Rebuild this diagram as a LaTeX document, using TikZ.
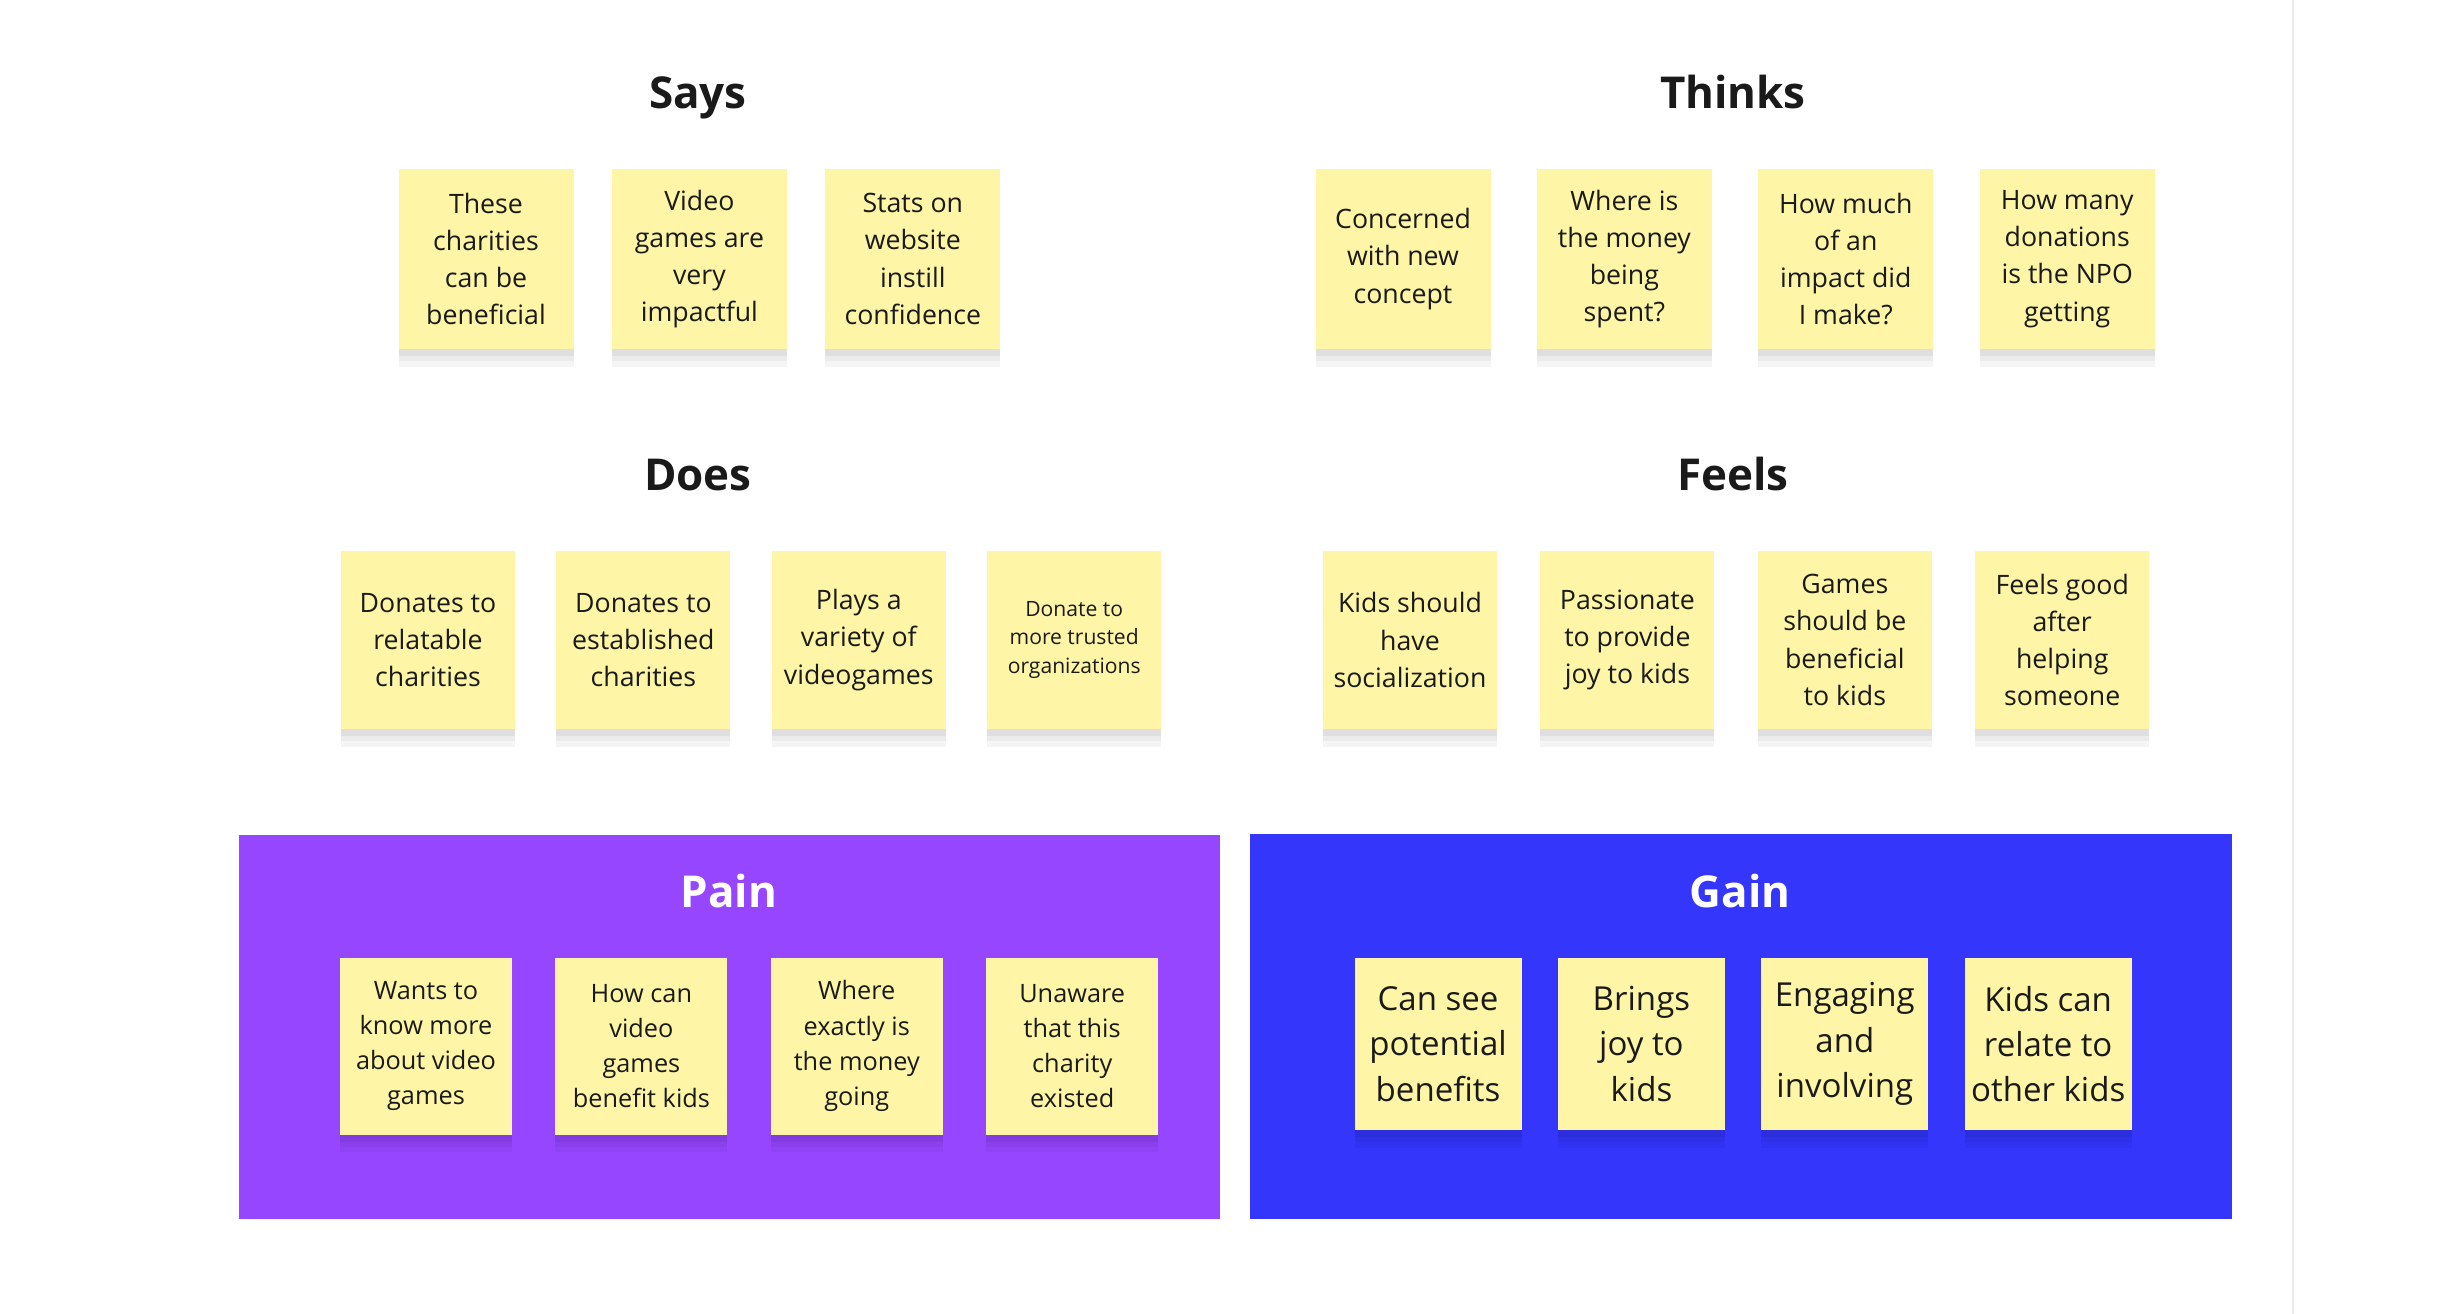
\documentclass[tikz,border=0pt]{standalone}
\usepackage{fontspec}
\setmainfont{Open Sans}
\usepackage{xcolor}
\usetikzlibrary{positioning}

\definecolor{stickyyellow}{RGB}{254,246,166}
\definecolor{painpurple}{RGB}{150,70,255}
\definecolor{gainblue}{RGB}{52,54,252}
\definecolor{inkdark}{RGB}{26,26,26}
\definecolor{edgegray}{RGB}{236,236,236}

\begin{document}
\begin{tikzpicture}[
  node distance=0.4cm,
  softshadow/.style={
    preaction={fill=black, fill opacity=0.04, transform canvas={yshift=-5pt}},
    preaction={fill=black, fill opacity=0.04, transform canvas={yshift=-3.5pt}},
    preaction={fill=black, fill opacity=0.05, transform canvas={yshift=-2pt}}},
  note/.style={fill=stickyyellow, minimum width=1.75cm, minimum height=1.80cm,
               inner sep=1pt, align=center, text=inkdark,
               font=\fontsize{7.6}{10.6}\selectfont, softshadow},
  painnote/.style={note, minimum width=1.72cm, minimum height=1.77cm,
                   font=\fontsize{7.2}{10.0}\selectfont},
  gainnote/.style={note, minimum width=1.67cm, minimum height=1.72cm,
                   font=\fontsize{9.4}{12.9}\selectfont},
  heading/.style={font=\bfseries\fontsize{12.5}{15}\selectfont, text=inkdark,
                  anchor=base},
  panelhead/.style={heading, text=white},
]
\useasboundingbox (0,0) rectangle (24.53,-13.14);
\fill[white] (0,0) rectangle (24.53,-13.14);
\draw[edgegray, line width=0.8pt] (22.93,0) -- (22.93,-13.14);

% Says
\node[heading] (says) at (6.98,-1.09) {Says};
\node[note] (says1) at (4.86,-2.59) {These\\charities\\can be\\beneficial};
\node[note, right=0.37cm of says1] (says2) {Video\\games are\\very\\impactful};
\node[note, right=0.37cm of says2] (says3) {Stats on\\website\\instill\\confidence};

% Thinks
\node[heading] (thinks) at (17.33,-1.09) {Thinks};
\node[note] (thinks1) at (14.03,-2.59) {Concerned\\with new\\concept};
\node[note, right=0.45cm of thinks1] (thinks2) {Where is\\the money\\being\\spent?};
\node[note, right=0.45cm of thinks2] (thinks3) {How much\\of an\\impact did\\I make?};
\node[note, right=0.45cm of thinks3] (thinks4) {How many\\donations\\is the NPO\\getting};

% Does
\node[heading] (does) at (6.98,-4.91) {Does};
\node[note, minimum width=1.74cm, minimum height=1.78cm] (does1) at (4.28,-6.40)
  {Donates to\\relatable\\charities};
\node[note, minimum width=1.74cm, minimum height=1.78cm, right=of does1] (does2)
  {Donates to\\established\\charities};
\node[note, minimum width=1.74cm, minimum height=1.78cm, right=of does2] (does3)
  {Plays a\\variety of\\videogames};
\node[note, minimum width=1.74cm, minimum height=1.78cm, right=of does3,
      font=\fontsize{6.0}{8.2}\selectfont] (does4)
  {Donate to\\more trusted\\organizations};

% Feels
\node[heading] (feels) at (17.33,-4.91) {Feels};
\node[note, minimum width=1.74cm, minimum height=1.78cm] (feels1) at (14.10,-6.40)
  {Kids should\\have\\socialization};
\node[note, minimum width=1.74cm, minimum height=1.78cm, right=0.42cm of feels1] (feels2)
  {Passionate\\to provide\\joy to kids};
\node[note, minimum width=1.74cm, minimum height=1.78cm, right=0.42cm of feels2] (feels3)
  {Games\\should be\\beneficial\\to kids};
\node[note, minimum width=1.74cm, minimum height=1.78cm, right=0.42cm of feels3] (feels4)
  {Feels good\\after\\helping\\someone};

% Pain panel
\fill[painpurple] (2.39,-8.35) rectangle (12.20,-12.19);
\node[panelhead] (pain) at (7.29,-9.07) {Pain};
\node[painnote] (pain1) at (4.26,-10.46) {Wants to\\know more\\about video\\games};
\node[painnote, right=0.42cm of pain1] (pain2) {How can\\video\\games\\benefit kids};
\node[painnote, right=0.42cm of pain2] (pain3) {Where\\exactly is\\the money\\going};
\node[painnote, right=0.42cm of pain3] (pain4) {Unaware\\that this\\charity\\existed};

% Gain panel
\fill[gainblue] (12.50,-8.34) rectangle (22.32,-12.19);
\node[panelhead] (gain) at (17.40,-9.07) {Gain};
\node[gainnote] (gain1) at (14.38,-10.44) {Can see\\potential\\benefits};
\node[gainnote, right=0.35cm of gain1] (gain2) {Brings\\joy to\\kids};
\node[gainnote, right=0.35cm of gain2] (gain3) {Engaging\\and\\involving};
\node[gainnote, right=0.35cm of gain3] (gain4) {Kids can\\relate to\\other kids};
\end{tikzpicture}
\end{document}
